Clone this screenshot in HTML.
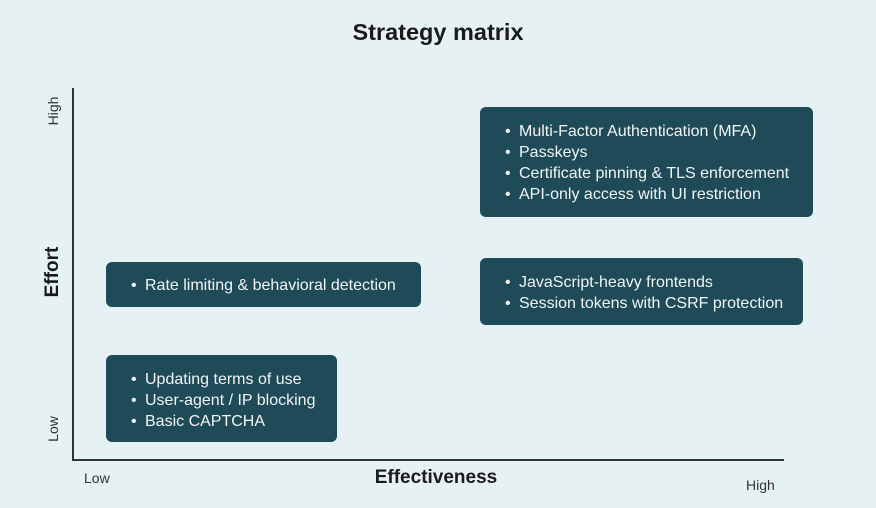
<!DOCTYPE html>
<html><head><meta charset="utf-8"><style>
body{margin:0;width:876px;height:508px;background:#e6f1f3;position:relative;overflow:hidden;font-family:"Liberation Sans",sans-serif;color:#1a1a1a}
.t{position:absolute;white-space:nowrap}
.box{position:absolute;background:#1f4a58;border-radius:6px}
.l{position:absolute;color:#f1f5f6;font-size:16px;line-height:21px;white-space:nowrap}
.l span{position:absolute;left:-14px}
.rot{position:absolute;transform:translate(-50%,-50%) rotate(-90deg);white-space:nowrap}
</style></head><body>
<div class="t" style="left:0;width:876px;text-align:center;top:19px;font-size:23.5px;font-weight:bold">Strategy matrix</div>
<div style="position:absolute;left:72px;top:88px;width:2px;height:373px;background:#333"></div>
<div style="position:absolute;left:72px;top:459px;width:712px;height:2px;background:#333"></div>
<div class="rot" style="left:53px;top:111px;font-size:14px;color:#333">High</div>
<div class="rot" style="left:53px;top:429px;font-size:14px;color:#333">Low</div>
<div class="rot" style="left:53px;top:272px;font-size:19px;font-weight:bold">Effort</div>
<div class="t" style="left:84px;top:470px;font-size:14px;color:#333">Low</div>
<div class="t" style="left:746px;top:477px;font-size:14px;color:#333">High</div>
<div class="t" style="left:0;width:872px;text-align:center;top:467px;font-size:19px;font-weight:bold">Effectiveness</div>

<div class="box" style="left:480px;top:107px;width:333px;height:110px"></div>
<div class="l" style="left:519px;top:121px">
<div style="position:relative"><span>•</span>Multi-Factor Authentication (MFA)</div>
<div style="position:relative"><span>•</span>Passkeys</div>
<div style="position:relative"><span>•</span>Certificate pinning &amp; TLS enforcement</div>
<div style="position:relative"><span>•</span>API-only access with UI restriction</div>
</div>

<div class="box" style="left:480px;top:258px;width:323px;height:67px"></div>
<div class="l" style="left:519px;top:272px">
<div style="position:relative"><span>•</span>JavaScript-heavy frontends</div>
<div style="position:relative"><span>•</span>Session tokens with CSRF protection</div>
</div>

<div class="box" style="left:106px;top:262px;width:315px;height:45px"></div>
<div class="l" style="left:145px;top:275px">
<div style="position:relative"><span>•</span>Rate limiting &amp; behavioral detection</div>
</div>

<div class="box" style="left:106px;top:355px;width:231px;height:87px"></div>
<div class="l" style="left:145px;top:369px">
<div style="position:relative"><span>•</span>Updating terms of use</div>
<div style="position:relative"><span>•</span>User-agent / IP blocking</div>
<div style="position:relative"><span>•</span>Basic CAPTCHA</div>
</div>
</body></html>
